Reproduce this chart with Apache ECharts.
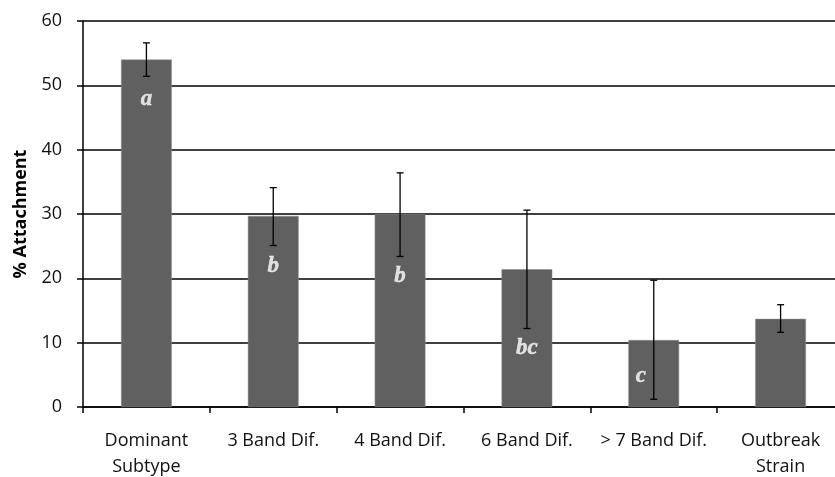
<!DOCTYPE html>
<html>
<head>
<meta charset="utf-8">
<script src="https://cdn.jsdelivr.net/npm/echarts@6/dist/echarts.min.js"></script>
<style>html,body{margin:0;padding:0;background:#fff}#c{width:835px;height:477px}</style>
</head>
<body>
<div id="c"></div>
<script>
const categories = ['Dominant\nSubtype', '3 Band Dif.', '4 Band Dif.', '6 Band Dif.', '> 7 Band Dif.', 'Outbreak\nStrain'];
const means = [54.0, 29.7, 30.0, 21.4, 10.4, 13.7];
const errLow = [51.4, 25.1, 23.4, 12.2, 1.2, 11.6];
const errHigh = [56.6, 34.1, 36.4, 30.6, 19.7, 15.9];
const letters = ['a', 'b', 'b', 'bc', 'c', ''];
const letterY = [47.9, 21.9, 20.3, 9.2, 4.8, null];
const yTicks = [0, 10, 20, 30, 40, 50, 60];

const chart = echarts.init(document.getElementById('c'));
const sans = 'Open Sans';
chart.setOption({
  animation: false,
  grid: { left: 83, right: -9, top: 21, bottom: 70, containLabel: false, outerBoundsMode: 'none' },
  xAxis: {
    type: 'category',
    data: categories,
    boundaryGap: true,
    axisLine: { lineStyle: { color: '#000', width: 1.5 } },
    axisTick: { show: true, length: 6, lineStyle: { color: '#000', width: 1.5 } },
    axisLabel: { color: '#111', fontFamily: sans, fontSize: 18, margin: 21, lineHeight: 26, interval: 0, hideOverlap: false }
  },
  yAxis: {
    type: 'value',
    min: yTicks[0], max: yTicks[yTicks.length - 1], interval: 10,
    name: '% Attachment',
    nameLocation: 'middle',
    nameRotate: 90,
    nameGap: 53,
    nameMoveOverlap: false,
    nameTextStyle: { color: '#000', fontFamily: sans, fontWeight: 'bold', fontSize: 18 },
    axisLine: { show: true, lineStyle: { color: '#000', width: 1.5 } },
    axisTick: { show: true, length: 6, lineStyle: { color: '#000', width: 1.5 } },
    axisLabel: { color: '#111', fontFamily: sans, fontSize: 18, margin: 21 },
    splitLine: { show: true, lineStyle: { color: '#000', width: 1.5 } }
  },
  series: [
    {
      type: 'bar',
      data: means,
      barWidth: '40%',
      itemStyle: { color: '#606060', borderColor: '#8a8a8a', borderWidth: 0.5 },
      z: 2
    },
    {
      type: 'custom',
      z: 5,
      data: categories.map((c, i) => [i, errLow[i], errHigh[i]]),
      renderItem: function (params, api) {
        const lo = api.coord([api.value(0), api.value(1)]);
        const hi = api.coord([api.value(0), api.value(2)]);
        const w = 3.5;
        const st = { stroke: '#000', lineWidth: 1.3 };
        return {
          type: 'group',
          children: [
            { type: 'line', shape: { x1: hi[0], y1: hi[1], x2: lo[0], y2: lo[1] }, style: st },
            { type: 'line', shape: { x1: hi[0] - w, y1: hi[1], x2: hi[0] + w, y2: hi[1] }, style: st },
            { type: 'line', shape: { x1: lo[0] - w, y1: lo[1], x2: lo[0] + w, y2: lo[1] }, style: st }
          ]
        };
      }
    },
    {
      type: 'scatter',
      z: 6,
      symbolSize: 0,
      silent: true,
      data: letters.map((l, i) => (l ? { value: [i, letterY[i]], name: l } : null)).filter(Boolean),
      label: {
        show: true,
        position: 'inside',
        formatter: function (p) { return p.name; },
        color: '#fff',
        fontFamily: 'Liberation Serif',
        fontStyle: 'italic',
        fontWeight: 'bold',
        fontSize: 23,
        textBorderColor: '#fff',
        textBorderWidth: 0.4
      },
      labelLayout: function (p) {
        if (p.text === 'c') return { dx: -13 };
        return {};
      }
    }
  ]
});
</script>
</body>
</html>
